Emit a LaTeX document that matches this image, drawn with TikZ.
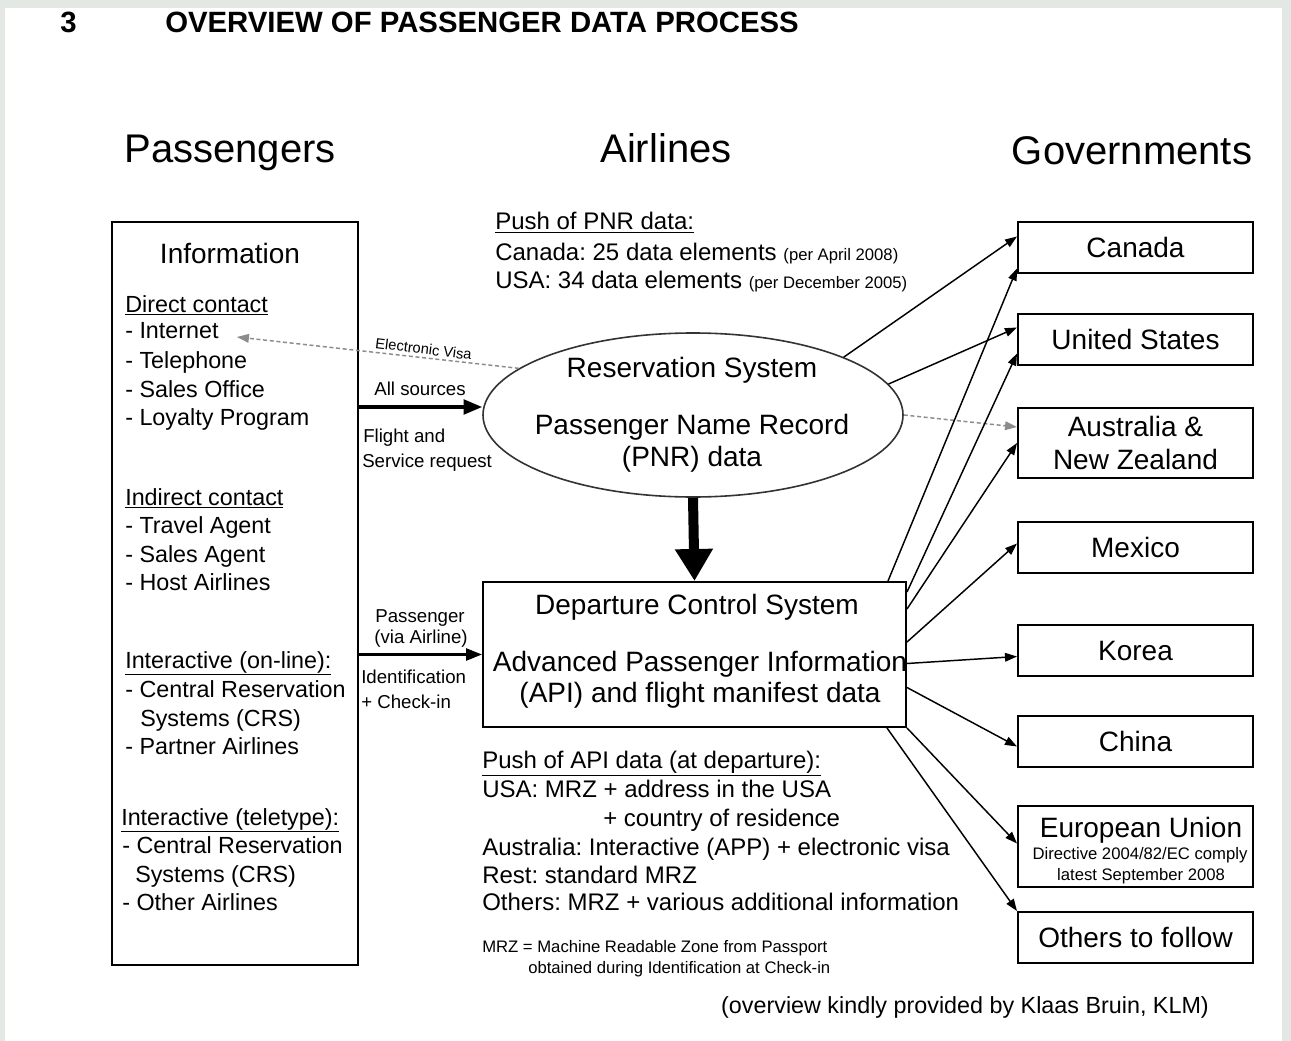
\documentclass[tikz,border=0pt]{standalone}
\usepackage{fontspec}
\setmainfont{Liberation Sans}
\usetikzlibrary{arrows.meta,shapes.geometric,calc}
\newcommand\fs[1]{\fontsize{#1}{#1}\selectfont}
\definecolor{framegray}{HTML}{E3E8E5}
\frenchspacing
\begin{document}
\begin{tikzpicture}[x=0.75pt,y=-0.75pt,
  txt/.style={inner sep=0pt, anchor=base},
  ltxt/.style={inner sep=0pt, anchor=base west},
  listtxt/.style={ltxt, font=\fs{17.5}},
  box/.style={draw, line width=1.5pt, inner sep=0pt},
  govbox/.style={box, minimum width=176.25pt, font=\fontsize{21}{25}\selectfont, align=center},
  conn/.style={line width=1.1pt, -{Triangle[length=9pt,width=6.5pt]}},
  dimconn/.style={conn, draw=black!45, dash pattern=on 3pt off 2pt},
]
\useasboundingbox (0,0) rectangle (1291,1041);
\fill[framegray] (0,0) rectangle (1291,1041);
\fill[white] (5,8) rectangle (1282,1041);

% heading
\node[ltxt, font=\fs{22}\bfseries] (secno) at (60,33) {3};
\node[ltxt, font=\fs{22}\bfseries] (title) at (165,33) {OVERVIEW OF PASSENGER DATA PROCESS};

% column headings
\node[txt, font=\fs{30}] (hpass) at (230,163) {Passengers};
\node[txt, font=\fs{30}] (hair) at (666,163) {Airlines};
\node[txt, font=\fs{30}] (hgov) at (1132,165) {Governments};

% passenger information box
\node[box, minimum width=184.5pt, minimum height=557.25pt] (info) at (235,593.5) {};
\node[txt, font=\fs{21}] (infotitle) at (230,263) {Information};
\foreach \t/\xx/\yy [count=\i] in {
  {\underline{Direct contact}}/125/312,
  {- Internet}/125/338,
  {- Telephone}/125/368,
  {- Sales Office}/125/397,
  {- Loyalty Program}/125/425,
  {\underline{Indirect contact}}/125/505,
  {- Travel Agent}/125/533,
  {- Sales Agent}/125/562,
  {- Host Airlines}/125/590,
  {\underline{Interactive (on-line):}}/125/668,
  {- Central Reservation}/125/697,
  {Systems (CRS)}/140/726,
  {- Partner Airlines}/125/754,
  {\underline{Interactive (teletype):}}/121/825,
  {- Central Reservation}/122/853,
  {Systems (CRS)}/135/882,
  {- Other Airlines}/122/910}
  \node[listtxt] (pl\i) at (\xx,\yy) {\t};

% reservation system
\node[draw=black!80, line width=1.2pt, ellipse, minimum width=315pt, minimum height=123pt, inner sep=0pt] (res) at (693,415) {};
\node[txt, font=\fs{21}] (rest1) at (692,377) {Reservation System};
\node[txt, font=\fs{21}] (rest2) at (692,434) {Passenger Name Record};
\node[txt, font=\fs{21}] (rest3) at (692,466) {(PNR) data};

% departure control system
\node[box, minimum width=317.25pt, minimum height=108.75pt] (dcs) at (694.5,654.5) {};
\node[txt, font=\fs{21}] (dcst1) at (697,614) {Departure Control System};
\node[txt, font=\fs{21}] (dcst2) at (700,671) {Advanced Passenger Information};
\node[txt, font=\fs{21}] (dcst3) at (700,702) {(API) and flight manifest data};

% government boxes
\node[govbox, minimum height=38.25pt] (can) at (1135.5,247.5) {Canada};
\node[govbox, minimum height=38.25pt] (us) at (1135.5,339.5) {United States};
\node[govbox, minimum height=52.5pt] (aus) at (1135.5,443) {Australia \&\\New Zealand};
\node[govbox, minimum height=38.25pt] (mex) at (1135.5,547.5) {Mexico};
\node[govbox, minimum height=38.25pt] (kor) at (1135.5,650.5) {Korea};
\node[govbox, minimum height=38.25pt] (chn) at (1135.5,741.5) {China};
\node[govbox, minimum height=60.75pt] (eu) at (1135.5,846.5) {};
\node[govbox, minimum height=38.25pt] (oth) at (1135.5,937.5) {Others to follow};
\node[txt, font=\fs{21}] (eut1) at (1141,837) {European Union};
\node[txt, font=\fs{12.5}] (eut2) at (1140,859) {Directive 2004/82/EC comply};
\node[txt, font=\fs{12.5}] (eut3) at (1141,880) {latest September 2008};

% PNR push notes
\node[ltxt, font=\fs{18}] (pnrh) at (495,230) {\underline{Push of PNR data:}};
\node[ltxt, font=\fs{18}] (pnr1) at (495,260) {Canada: 25 data elements {\fs{12.5}(per April 2008)}};
\node[ltxt, font=\fs{18}] (pnr2) at (495,288) {USA: 34 data elements {\fs{12.5}(per December 2005)}};

% API push notes
\node[ltxt, font=\fs{18}] (apih) at (482,768) {\underline{Push of API data (at departure):}};
\node[ltxt, font=\fs{18}] (api1) at (482,797) {USA: MRZ + address in the USA};
\node[ltxt, font=\fs{18}] (api2) at (603,826) {+ country of residence};
\node[ltxt, font=\fs{18}] (api3) at (482,855) {Australia: Interactive (APP) + electronic visa};
\node[ltxt, font=\fs{18}] (api4) at (482,883) {Rest: standard MRZ};
\node[ltxt, font=\fs{18}] (api5) at (482,910) {Others: MRZ + various additional information};
\node[ltxt, font=\fs{12.5}] (mrz1) at (482,952) {MRZ = Machine Readable Zone from Passport};
\node[ltxt, font=\fs{12.5}] (mrz2) at (528,973) {obtained during Identification at Check-in};

\node[txt, font=\fs{17.5}] (credit) at (965,1013) {(overview kindly provided by Klaas Bruin, KLM)};

% passengers to airlines
\draw[dimconn] (res.165) -- ($(pl2.base east)+(18,-1)$);
\node[txt, font=\fs{11}, rotate=-7] (evisa) at (423,354) {Electronic Visa};
\draw[line width=2.6pt, -{Triangle[length=14pt,width=11pt]}] ($(info.east |- res.west)+(0,-8)$) -- ($(res.west)+(0,-8)$);
\node[txt, font=\fs{14}] (lsrc) at (420,395) {All sources};
\node[ltxt, font=\fs{14}] (lfl1) at (363,442) {Flight and};
\node[ltxt, font=\fs{14}] (lfl2) at (362,467) {Service request};
\draw[line width=1.9pt, -{Triangle[length=12pt,width=9pt]}] (info.east |- dcs.west) -- (dcs.west);
\node[txt, font=\fs{14}] (lpx1) at (420,622) {Passenger};
\node[txt, font=\fs{14}] (lpx2) at (421,643) {(via Airline)};
\node[ltxt, font=\fs{14}] (lid1) at (361,683) {Identification};
\node[ltxt, font=\fs{14}] (lid2) at (361,708) {+ Check-in};

% reservation system to departure control
\draw[line width=7.5pt, -{Triangle[length=24pt,width=27pt]}] (res.south) -- (dcs.north);

% reservation system to governments
\draw[conn] (res.21) -- ($(can.west)+(0,-11)$);
\draw[conn] (res.9) -- ($(us.west)+(0,-12)$);
\draw[dimconn] (res.east) -- ($(aus.west)+(0,-16)$);

% departure control to governments
\draw[conn] ($(dcs.north east)+(-19,0)$) -- ($(can.west)+(0,21)$);
\draw[conn] ($(dcs.north east)+(0,11)$) -- ($(us.west)+(0,14)$);
\draw[conn] ($(dcs.north east)+(0,28)$) -- (aus.west);
\draw[conn] ($(dcs.north east)+(0,61)$) -- ($(mex.west)+(0,-4)$);
\draw[conn] ($(dcs.east)+(0,9)$) -- ($(kor.west)+(0,6)$);
\draw[conn] ($(dcs.east)+(0,33)$) -- ($(chn.west)+(0,5)$);
\draw[conn] (dcs.south east) -- ($(eu.west)+(0,-3)$);
\draw[conn] ($(dcs.south east)+(-20,0)$) -- (oth.north west);
\end{tikzpicture}
\end{document}
